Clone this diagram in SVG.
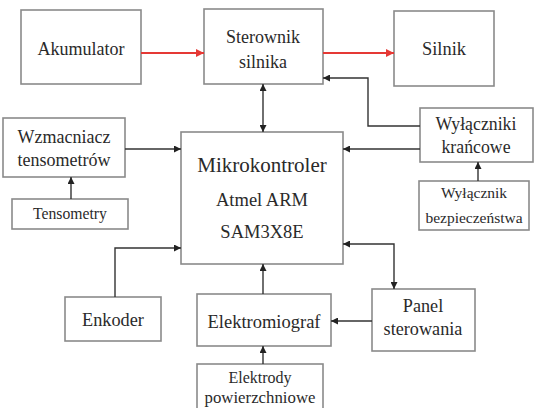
<svg xmlns="http://www.w3.org/2000/svg" width="535" height="408" viewBox="0 0 535 408" font-family="'Liberation Serif', 'Times New Roman', serif">
<defs>
<marker id="ah" viewBox="0 0 10 10" refX="10" refY="5" markerWidth="7" markerHeight="7" markerUnits="userSpaceOnUse" orient="auto-start-reverse"><path d="M0,0 L10,5 L0,10 Z" fill="#222"/></marker>
<marker id="ahr" viewBox="0 0 10 10" refX="10" refY="5" markerWidth="8" markerHeight="8" markerUnits="userSpaceOnUse" orient="auto"><path d="M0,0 L10,5 L0,10 Z" fill="#e53935"/></marker>
</defs>
<style>
.box{fill:#fff;stroke:#8a8a8a;stroke-width:1.6}
text{font-family:'Liberation Serif','Times New Roman',serif;fill:#2a2a2a;text-anchor:middle}
.c{fill:none;stroke:#333;stroke-width:1.4}
.r{fill:none;stroke:#e53935;stroke-width:2}
</style>
<rect width="535" height="408" fill="#fff"/>
<g id="akumulator"><rect class="box" x="21" y="10" width="120" height="74"/><text x="81" y="55" font-size="18">Akumulator</text></g>
<g id="sterownik"><rect class="box" x="204" y="9" width="119" height="75"/><text x="263" y="43" font-size="18">Sterownik</text><text x="263" y="68" font-size="18">silnika</text></g>
<g id="silnik"><rect class="box" x="394" y="11" width="100" height="75"/><text x="444" y="55" font-size="18.4">Silnik</text></g>
<g id="wzmacniacz"><rect class="box" x="3" y="118" width="122" height="59"/><text x="64" y="143" font-size="18">Wzmacniacz</text><text x="64" y="166" font-size="18">tensometrów</text></g>
<g id="tensometry"><rect class="box" x="12" y="199" width="116" height="30"/><text x="70" y="219" font-size="15.7">Tensometry</text></g>
<g id="mikrokontroler"><rect class="box" x="181" y="132" width="162" height="132"/><text x="262" y="172" font-size="21">Mikrokontroler</text><text x="262" y="206" font-size="18.5">Atmel ARM</text><text x="262" y="238" font-size="18.5">SAM3X8E</text></g>
<g id="wylaczniki"><rect class="box" x="420" y="108" width="113" height="54"/><text x="476" y="130" font-size="17.8">Wyłączniki</text><text x="476" y="153" font-size="17.8">krańcowe</text></g>
<g id="bezpieczenstwa"><rect class="box" x="419" y="181" width="110" height="49"/><text x="474" y="198" font-size="15.5">Wyłącznik</text><text x="474" y="223" font-size="15.5">bezpieczeństwa</text></g>
<g id="enkoder"><rect class="box" x="65" y="297" width="96" height="44"/><text x="113" y="326" font-size="18.3">Enkoder</text></g>
<g id="elektromiograf"><rect class="box" x="197" y="294" width="134" height="52"/><text x="264" y="328" font-size="18.5">Elektromiograf</text></g>
<g id="elektrody"><rect class="box" x="197" y="364" width="126" height="50"/><text x="260" y="383" font-size="16">Elektrody</text><text x="260" y="403" font-size="16.8">powierzchniowe</text></g>
<g id="panel"><rect class="box" x="372" y="289" width="103" height="62"/><text x="423" y="312" font-size="18.2">Panel</text><text x="423" y="335" font-size="18.2">sterowania</text></g>
<g id="connectors">
<path class="r" d="M141,53 H204" marker-end="url(#ahr)"/>
<path class="r" d="M323,53 H394" marker-end="url(#ahr)"/>
<path class="c" d="M263,84 V132" marker-start="url(#ah)" marker-end="url(#ah)"/>
<path class="c" d="M420,126 H368 V78 H323" marker-end="url(#ah)"/>
<path class="c" d="M420,149 H343" marker-end="url(#ah)"/>
<path class="c" d="M478,181 V162" marker-end="url(#ah)"/>
<path class="c" d="M125,149 H181" marker-end="url(#ah)"/>
<path class="c" d="M71,199 V177" marker-end="url(#ah)"/>
<path class="c" d="M115,297 V248 H181" marker-end="url(#ah)"/>
<path class="c" d="M263,294 V264" marker-end="url(#ah)"/>
<path class="c" d="M263,364 V346" marker-end="url(#ah)"/>
<path class="c" d="M372,321 H331" marker-end="url(#ah)"/>
<path class="c" d="M343,244 H394 V289" marker-start="url(#ah)" marker-end="url(#ah)"/>
</g>
</svg>
